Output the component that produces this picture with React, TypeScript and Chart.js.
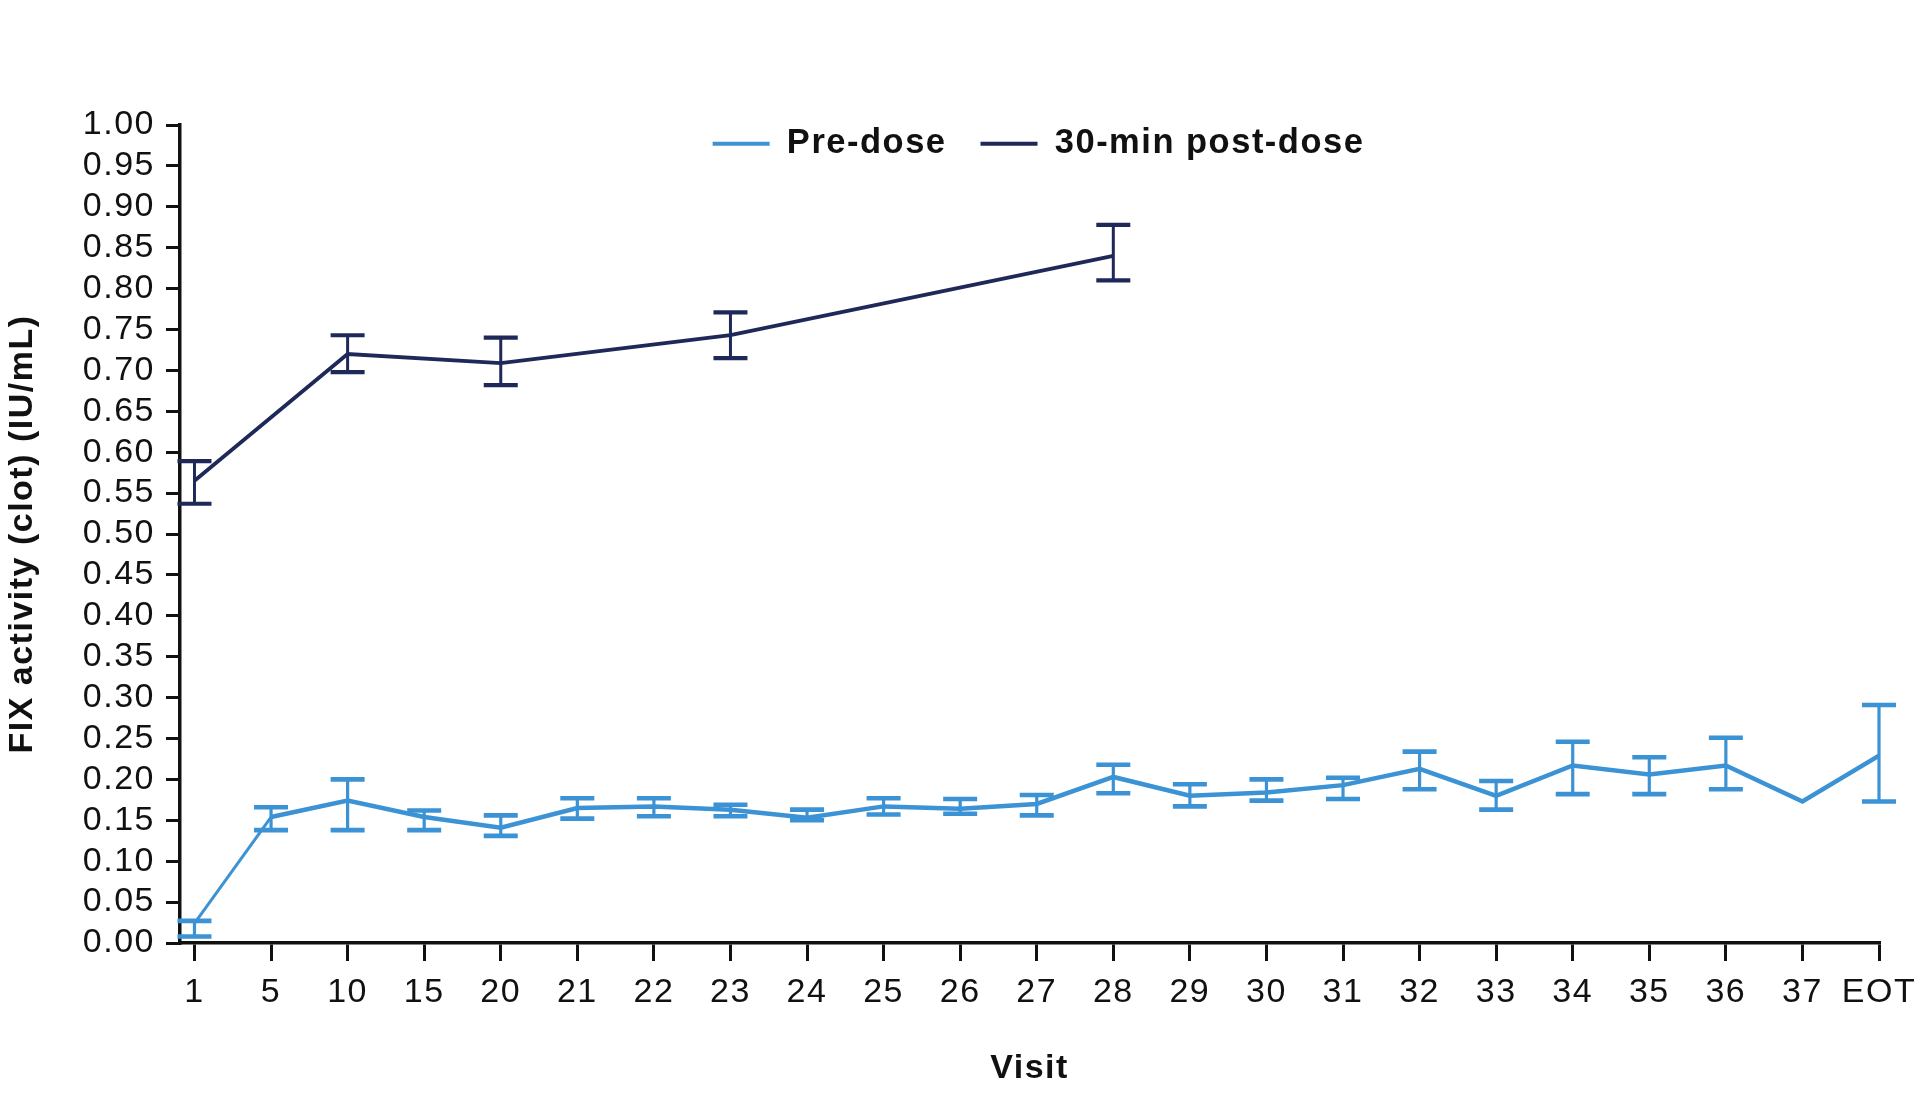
import React, { useEffect, useRef } from "react";
import { Chart, registerables } from "chart.js";

Chart.register(...registerables);

const visitLabels = ["1", "5", "10", "15", "20", "21", "22", "23", "24", "25", "26", "27", "28", "29", "30", "31", "32", "33", "34", "35", "36", "37", "EOT"];

const preMean = [0.024, 0.154, 0.174, 0.154, 0.141, 0.165, 0.167, 0.163, 0.153, 0.167, 0.164, 0.170, 0.203, 0.180, 0.184, 0.193, 0.213, 0.180, 0.217, 0.206, 0.217, 0.173, 0.229];
const preLow = [0.008, 0.138, 0.138, 0.138, 0.131, 0.152, 0.155, 0.155, 0.150, 0.157, 0.158, 0.156, 0.183, 0.167, 0.174, 0.176, 0.188, 0.163, 0.182, 0.182, 0.188, null, 0.173];
const preHigh = [0.027, 0.166, 0.200, 0.162, 0.156, 0.177, 0.177, 0.169, 0.163, 0.177, 0.176, 0.181, 0.218, 0.194, 0.200, 0.202, 0.234, 0.198, 0.246, 0.227, 0.251, null, 0.291];

const postMean = [0.565, null, 0.720, null, 0.709, null, null, 0.743, null, null, null, null, 0.840, null, null, null, null, null, null, null, null, null, null];
const postLow = [0.537, null, 0.698, null, 0.682, null, null, 0.715, null, null, null, null, 0.810, null, null, null, null, null, null, null, null, null, null];
const postHigh = [0.589, null, 0.743, null, 0.740, null, null, 0.771, null, null, null, null, 0.878, null, null, null, null, null, null, null, null, null, null];

const yTickValues = [0, 0.05, 0.1, 0.15, 0.2, 0.25, 0.3, 0.35, 0.4, 0.45, 0.5, 0.55, 0.6, 0.65, 0.7, 0.75, 0.8, 0.85, 0.9, 0.95, 1.0];
const yTickLabels = ["0.00", "0.05", "0.10", "0.15", "0.20", "0.25", "0.30", "0.35", "0.40", "0.45", "0.50", "0.55", "0.60", "0.65", "0.70", "0.75", "0.80", "0.85", "0.90", "0.95", "1.00"];

const seriesNames = ["Pre-dose", "30-min post-dose"];

const LIGHT = "rgb(59, 146, 212)";
const DARK = "rgb(30, 41, 89)";
const INK = "#111111";
const FONT = "'Liberation Sans', Arial, Helvetica, sans-serif";
const SPACING = "1.5px";

const spacingPlugin = {
  id: "letterSpacing",
  beforeUpdate(chart: any) {
    chart.ctx.letterSpacing = SPACING;
  },
  beforeDraw(chart: any) {
    chart.ctx.letterSpacing = SPACING;
  },
};

// Let the legend overlay the top of the plot area instead of reserving space.
const legendPlacePlugin = {
  id: "legendPlace",
  beforeLayout(chart: any) {
    const lg = chart.legend;
    if (lg && !lg.__patched) {
      const origFit = lg.fit;
      lg.fit = function (this: any) {
        origFit.call(this);
        this.__realHeight = this.height;
        this.height = 0;
      };
      lg.__patched = true;
    }
  },
  afterLayout(chart: any) {
    const lg = chart.legend;
    const ca = chart.chartArea;
    if (!lg || !ca) return;
    lg.left = ca.left + 9;
    lg.right = ca.right + 9;
    lg.width = lg.right - lg.left;
    lg.top = ca.top - 32.5;
    lg.height = lg.__realHeight || 100;
    lg.bottom = lg.top + lg.height;
  },
};

const errorBarPlugin = {
  id: "errorBars",
  afterDatasetsDraw(chart: any) {
    const ctx = chart.ctx;
    const xs = chart.scales.x;
    const ys = chart.scales.y;
    const sets = [
      { low: preLow, high: preHigh, color: LIGHT, stem: 3.2, cap: 4.6 },
      { low: postLow, high: postHigh, color: DARK, stem: 3, cap: 4.2 },
    ];
    ctx.save();
    sets.forEach((s) => {
      ctx.strokeStyle = s.color;
      s.low.forEach((lo: number | null, i: number) => {
        const hi = s.high[i];
        if (lo == null || hi == null) return;
        const x = xs.getPixelForValue(i);
        const yl = ys.getPixelForValue(lo);
        const yh = ys.getPixelForValue(hi);
        ctx.lineCap = "butt";
        ctx.lineWidth = s.stem;
        ctx.beginPath();
        ctx.moveTo(x, yl);
        ctx.lineTo(x, yh);
        ctx.stroke();
        ctx.lineWidth = s.cap;
        ctx.beginPath();
        ctx.moveTo(x - 17, yl);
        ctx.lineTo(x + 17, yl);
        ctx.moveTo(x - 17, yh);
        ctx.lineTo(x + 17, yh);
        ctx.stroke();
      });
    });
    ctx.restore();
  },
};

export default function App() {
  const canvasRef = useRef<HTMLCanvasElement | null>(null);

  useEffect(() => {
    document.body.style.margin = "0";
    const canvas = canvasRef.current;
    if (!canvas) return;
    const chart = new Chart(canvas, {
      type: "line",
      data: {
        datasets: [
          {
            label: seriesNames[0],
            data: preMean.map((y, i) => ({ x: i, y })),
            borderColor: LIGHT,
            backgroundColor: LIGHT,
            borderWidth: 4.5,
            pointRadius: 0,
            tension: 0,
            spanGaps: true,
            segment: {
              borderWidth: (c: any) => (c.p0DataIndex === 0 ? 3 : 4.5),
            },
          },
          {
            label: seriesNames[1],
            data: postMean.map((y, i) => ({ x: i, y })),
            borderColor: DARK,
            backgroundColor: DARK,
            borderWidth: 3.8,
            pointRadius: 0,
            tension: 0,
            spanGaps: true,
            segment: {
              borderWidth: (c: any) => (c.p0DataIndex === 0 ? 3 : 3.8),
            },
          },
        ],
      },
      options: {
        responsive: false,
        devicePixelRatio: 1,
        animation: false,
        events: [],
        layout: { padding: { top: 125, left: 0, right: 39, bottom: 0 } },
        plugins: {
          tooltip: { enabled: false },
          legend: {
            display: true,
            position: "top",
            align: "center",
            labels: {
              boxWidth: 57,
              boxHeight: 4,
              padding: 34,
              color: INK,
              font: { family: FONT, size: 34.5, weight: "bold" },
              generateLabels: (ch: any) =>
                Chart.defaults.plugins.legend.labels.generateLabels(ch).map((it: any, k: number) => ({
                  ...it,
                  lineWidth: 0,
                  fillStyle: ch.data.datasets[k].borderColor,
                })),
            },
          },
        },
        scales: {
          x: {
            type: "linear",
            min: -0.189,
            max: 22,
            afterFit: (s: any) => {
              s.height = 150;
              s.paddingLeft = 0;
              s.paddingRight = 0;
            },
            afterBuildTicks: (s: any) => {
              s.ticks = visitLabels.map((_, i) => ({ value: i }));
            },
            ticks: {
              autoSkip: false,
              maxRotation: 0,
              padding: 11,
              color: INK,
              font: { family: FONT, size: 34 },
              callback: (v: any) => visitLabels[v as number] ?? "",
            },
            grid: {
              display: true,
              drawOnChartArea: false,
              drawTicks: true,
              tickLength: 18,
              tickWidth: 3,
              tickColor: INK,
              lineWidth: 3,
              color: INK,
            },
            border: { display: true, color: INK, width: 3.5 },
            title: {
              display: true,
              text: "Visit",
              color: INK,
              font: { family: FONT, size: 34, weight: "bold" },
              padding: { top: 0, bottom: 4 },
            },
          },
          y: {
            type: "linear",
            min: 0,
            max: 1,
            afterFit: (s: any) => {
              s.width = 180;
              s.paddingTop = 0;
              s.paddingBottom = 0;
            },
            afterBuildTicks: (s: any) => {
              s.ticks = yTickValues.map((v) => ({ value: v }));
            },
            ticks: {
              autoSkip: false,
              padding: 11,
              color: INK,
              font: { family: FONT, size: 34 },
              callback: (_v: any, idx: number) => yTickLabels[idx],
            },
            grid: {
              display: true,
              drawOnChartArea: false,
              drawTicks: true,
              tickLength: 14,
              tickWidth: 3,
              tickColor: INK,
              lineWidth: 3,
              color: INK,
            },
            border: { display: true, color: INK, width: 3.5 },
            title: {
              display: true,
              text: "FIX activity (clot) (IU/mL)",
              color: INK,
              font: { family: FONT, size: 34, weight: "bold" },
              padding: { top: 2, bottom: 0 },
            },
          },
        },
      },
      plugins: [spacingPlugin, legendPlacePlugin, errorBarPlugin],
    } as any);
    return () => chart.destroy();
  }, []);

  return (
    <div style={{ width: 1918, height: 1093, overflow: "hidden", background: "#ffffff" }}>
      <canvas ref={canvasRef} width={1918} height={1093} style={{ display: "block" }} />
    </div>
  );
}
